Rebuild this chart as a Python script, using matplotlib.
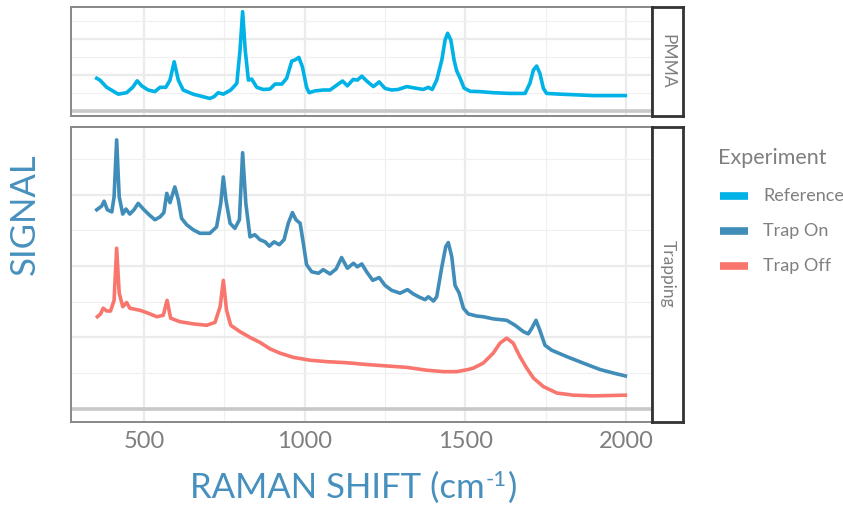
import matplotlib
matplotlib.use("Agg")
from matplotlib import pyplot as plt

plt.rcParams['font.family'] = ['Lato', 'DejaVu Sans']

# Reference (PMMA panel)
ref_x = [353, 363, 384, 420, 446, 465, 479, 493, 513, 534, 550, 568, 581, 594, 607, 622,
         653, 705, 718, 731, 747, 770, 789, 799, 807, 815, 825, 835, 851, 871, 892, 908,
         929, 944, 960, 970, 982, 993, 1006, 1014, 1032, 1058, 1079, 1100, 1118, 1133, 1151,
         1164, 1178, 1193, 1214, 1232, 1250, 1271, 1291, 1318, 1349, 1369, 1385, 1397, 1411,
         1427, 1437, 1445, 1455, 1465, 1473, 1484, 1496, 1515, 1546, 1587, 1639, 1686, 1701,
         1712, 1722, 1732, 1743, 1753, 1795, 1847, 1898, 1950, 1998]
ref_y = [0.90, 0.85, 0.65, 0.46, 0.50, 0.65, 0.83, 0.69, 0.575, 0.53, 0.65, 0.65, 0.85, 1.36,
         0.85, 0.575, 0.46, 0.34, 0.39, 0.50, 0.46, 0.575, 0.76, 1.69, 2.75, 1.69, 0.85, 0.88,
         0.65, 0.59, 0.60, 0.74, 0.74, 0.90, 1.38, 1.41, 1.48, 1.22, 0.65, 0.50, 0.55, 0.575,
         0.575, 0.71, 0.825, 0.69, 0.87, 0.85, 0.96, 0.825, 0.67, 0.80, 0.62, 0.575, 0.59,
         0.67, 0.62, 0.59, 0.65, 0.59, 0.85, 1.41, 1.96, 2.15, 1.96, 1.41, 1.11, 0.90, 0.63,
         0.54, 0.53, 0.50, 0.48, 0.48, 0.76, 1.13, 1.24, 1.04, 0.62, 0.48, 0.46, 0.44, 0.42,
         0.42, 0.42]

# Trap On
on_x = [353, 368, 376, 386, 400, 407, 415, 423, 434, 444, 456, 469, 482, 498, 516, 534, 550,
        562, 571, 581, 596, 607, 617, 633, 653, 674, 705, 726, 739, 747, 755, 768, 783, 797,
        807, 817, 830, 845, 861, 877, 890, 905, 921, 936, 949, 962, 973, 986, 996, 1006, 1022,
        1043, 1058, 1079, 1098, 1115, 1133, 1152, 1164, 1178, 1193, 1212, 1232, 1250, 1271,
        1297, 1320, 1338, 1359, 1375, 1385, 1401, 1411, 1427, 1439, 1447, 1458, 1468, 1481,
        1494, 1509, 1535, 1556, 1587, 1629, 1655, 1681, 1696, 1707, 1720, 1732, 1748, 1769,
        1816, 1867, 1919, 1961, 1998]
on_y = [2.79, 2.84, 2.91, 2.79, 2.76, 2.97, 3.77, 2.97, 2.73, 2.80, 2.73, 2.79, 2.88, 2.80,
        2.72, 2.65, 2.69, 2.75, 3.02, 2.89, 3.11, 2.93, 2.67, 2.58, 2.51, 2.46, 2.46, 2.55,
        2.88, 3.25, 2.93, 2.60, 2.53, 2.65, 3.59, 2.88, 2.41, 2.44, 2.37, 2.34, 2.28, 2.34,
        2.30, 2.37, 2.60, 2.75, 2.65, 2.60, 2.32, 2.02, 1.92, 1.90, 1.95, 1.89, 1.96, 2.12,
        1.97, 2.04, 1.99, 2.03, 1.92, 1.80, 1.84, 1.73, 1.66, 1.62, 1.67, 1.61, 1.56, 1.53,
        1.57, 1.51, 1.57, 1.99, 2.27, 2.33, 2.13, 1.73, 1.62, 1.41, 1.33, 1.30, 1.29, 1.26,
        1.24, 1.17, 1.08, 1.05, 1.13, 1.24, 1.10, 0.89, 0.82, 0.73, 0.64, 0.55, 0.50, 0.46]

# Trap Off
off_x = [355, 365, 373, 384, 396, 407, 415, 423, 434, 446, 456, 488, 513, 540, 560, 572, 583,
         612, 653, 695, 721, 737, 747, 757, 770, 799, 830, 861, 892, 923, 965, 1017, 1069, 1131,
         1193, 1255, 1318, 1380, 1432, 1473, 1509, 1525, 1556, 1587, 1608, 1629, 1649, 1670,
         1691, 1712, 1743, 1785, 1836, 1898, 1998]
off_y = [1.29, 1.33, 1.41, 1.37, 1.37, 1.52, 2.25, 1.62, 1.43, 1.49, 1.41, 1.38, 1.34, 1.29,
         1.31, 1.52, 1.27, 1.22, 1.19, 1.17, 1.21, 1.43, 1.80, 1.38, 1.17, 1.08, 1.00, 0.93,
         0.84, 0.78, 0.72, 0.68, 0.66, 0.645, 0.62, 0.60, 0.58, 0.54, 0.52, 0.52, 0.55, 0.57,
         0.64, 0.78, 0.92, 0.99, 0.92, 0.73, 0.57, 0.43, 0.31, 0.22, 0.19, 0.18, 0.19]

exp_names = ["Reference", "Trap On", "Trap Off"]
exp_colors = ["#00B2E6", "#3F8DB8", "#F8766D"]
x_ticks = [500, 1000, 1500, 2000]
facet_names = ["PMMA", "Trapping"]

grey = "#7f7f7f"
title_blue = "#4790BE"

fig = plt.figure(figsize=(8.43, 5.07), dpi=100)
W, H = 843.0, 507.0


def panel(x0, y0, x1, y1):
    return fig.add_axes([x0 / W, 1 - y1 / H, (x1 - x0) / W, (y1 - y0) / H])


def style(ax, ylim, ymaj, show_x):
    ax.set_xlim(272, 2081)
    ax.set_ylim(*ylim)
    for v in [250, 750, 1250, 1750]:
        ax.axvline(v, color="#f0f0f0", lw=0.9, zorder=0)
    for v in x_ticks:
        ax.axvline(v, color="#ebebeb", lw=1.6, zorder=0)
    for v in ymaj:
        if v == 0:
            ax.axhline(v, color="#c8c8c8", lw=2.6, zorder=0)
        else:
            ax.axhline(v, color="#ebebeb", lw=1.6, zorder=0)
        ax.axhline(v + 0.5, color="#f0f0f0", lw=0.9, zorder=0)
    ax.set_yticks([])
    ax.set_xticks(x_ticks)
    ax.tick_params(axis="x", length=0, pad=7, labelsize=17, labelcolor=grey)
    if not show_x:
        ax.set_xticklabels([])
    for s in ax.spines.values():
        s.set_color("#888888")
        s.set_linewidth(1.4)


def strip(y0, y1, label):
    sa = panel(651.5, y0, 683, y1)
    sa.set_xticks([])
    sa.set_yticks([])
    for s in sa.spines.values():
        s.set_color("#333333")
        s.set_linewidth(2.0)
    sa.text(0.5, 0.5, label, rotation=-90, ha="center", va="center",
            fontsize=12.5, color=grey, transform=sa.transAxes)


ax1 = panel(70.7, 7.3, 652, 116)
style(ax1, (-0.147, 2.872), [0, 1, 2], False)
ax1.plot(ref_x, ref_y, color=exp_colors[0], lw=2.6)
strip(7.3, 116, facet_names[0])

ax2 = panel(70.7, 126.7, 652, 421.7)
style(ax2, (-0.182, 3.955), [0, 1, 2, 3], True)
ax2.plot(on_x, on_y, color=exp_colors[1], lw=2.6)
ax2.plot(off_x, off_y, color=exp_colors[2], lw=2.6)
strip(126.7, 421.7, facet_names[1])

# x title with a plain hyphen superscript, built from three pieces
t1 = fig.text(190 / W, 1 - 498 / H, "RAMAN SHIFT (cm", ha="left", va="baseline",
              fontsize=25, color=title_blue)
t2 = fig.text(0, 0, "-1", fontsize=16, color=title_blue, ha="left", va="baseline")
t2.set_transform(matplotlib.transforms.offset_copy(
    fig.transFigure, fig=fig, x=0, y=0, units="dots"))
fig.canvas.draw()
bb = t1.get_window_extent()
t2.set_position((bb.x1 / (W) + 1 / W, (1 - 498 / H) + 12 / H))
t2.set_transform(fig.transFigure)
fig.canvas.draw()
bb2 = t2.get_window_extent()
fig.text(bb2.x1 / W + 1 / W, 1 - 498 / H, ")", ha="left", va="baseline",
         fontsize=25, color=title_blue)

fig.text(25 / W, 1 - 214 / H, "SIGNAL", rotation=90, ha="center", va="center",
         fontsize=25, color=title_blue)

# legend drawn by hand like ggplot's guide
fig.text(718 / W, 1 - 158 / H, "Experiment", ha="left", va="center", fontsize=15.5, color=grey)
for i, (name, col) in enumerate(zip(exp_names, exp_colors)):
    yy = 1 - (196 + 35 * i) / H
    fig.add_artist(plt.Line2D([720 / W, 748 / W], [yy, yy], color=col, lw=5.5,
                              transform=fig.transFigure, solid_capstyle="butt"))
    fig.text(763 / W, yy, name, ha="left", va="center", fontsize=13, color=grey)

fig.savefig("out.png", dpi=100)
